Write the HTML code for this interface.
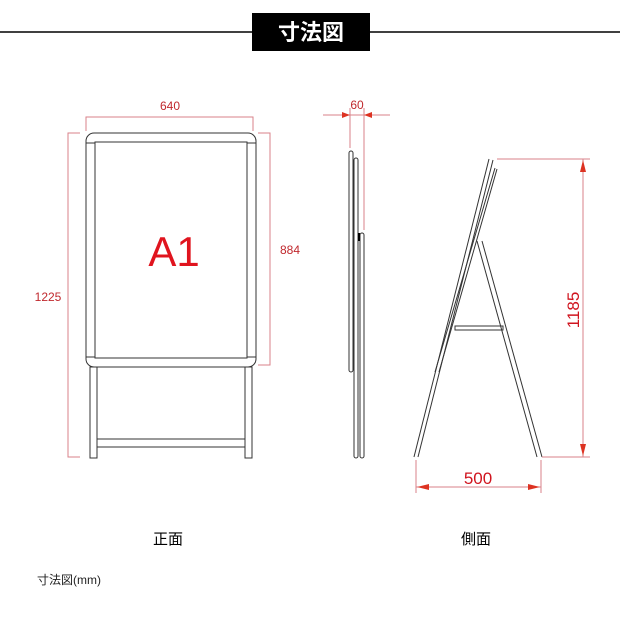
<!DOCTYPE html>
<html><head><meta charset="utf-8"><style>
html,body{margin:0;padding:0;background:#fff;}
svg{display:block}
</style></head><body>
<svg width="620" height="620" viewBox="0 0 620 620" xmlns="http://www.w3.org/2000/svg" font-family="'Liberation Sans','Noto Sans CJK JP',sans-serif">
<line x1="0" y1="32" x2="620" y2="32" stroke="#000" stroke-width="1.5"/>
<rect x="252" y="13" width="118" height="38" fill="#000"/>
<text x="311" y="40" fill="#fff" font-size="22" font-weight="bold" text-anchor="middle">寸法図</text>

<!-- front view -->
<g fill="none" stroke="#333" stroke-width="1">
<rect x="86" y="133" width="170" height="234" rx="8" fill="#fff"/>
<rect x="95" y="142" width="152" height="216"/>
<line x1="86" y1="143" x2="95" y2="143"/><line x1="247" y1="143" x2="256" y2="143"/>
<line x1="86" y1="357" x2="95" y2="357"/><line x1="247" y1="357" x2="256" y2="357"/>
<rect x="90" y="367" width="7" height="91"/>
<rect x="245" y="367" width="7" height="91"/>
<rect x="97" y="439" width="148" height="8"/>
</g>
<g stroke="#d9828a" stroke-width="1" fill="none">
<polyline points="86,131 86,117 253,117 253,131"/>
<polyline points="80,133 68,133 68,457 80,457"/>
<polyline points="258,133 270,133 270,365 258,365"/>
</g>
<text x="170" y="110" font-size="12" fill="#c0282d" text-anchor="middle">640</text>
<text x="48" y="301" font-size="12" fill="#c0282d" text-anchor="middle">1225</text>
<text x="290" y="254" font-size="12" fill="#c0282d" text-anchor="middle">884</text>
<text x="174" y="266" font-size="42" fill="#e0141e" text-anchor="middle">A1</text>

<!-- side folded -->
<g fill="#fff" stroke="#333" stroke-width="1">
<rect x="349" y="151" width="4" height="221" rx="2"/>
<rect x="354" y="158" width="4" height="300" rx="2"/>
<rect x="360" y="233" width="4" height="225" rx="2"/>
</g>
<rect x="358" y="233" width="2" height="8" fill="#000"/>
<g stroke="#d9828a" stroke-width="1" fill="none">
<line x1="323" y1="115" x2="390" y2="115"/>
<line x1="350" y1="108" x2="350" y2="148"/>
<line x1="364" y1="108" x2="364" y2="230"/>
</g>
<path d="M350 115 l-8 -3 v6z M364 115 l8 -3 v6z" fill="#d32"/>
<text x="357" y="109" font-size="12" fill="#c0282d" text-anchor="middle">60</text>

<!-- A-frame -->
<g fill="none" stroke="#333" stroke-width="1">
<line x1="489" y1="159" x2="414" y2="457"/>
<line x1="493" y1="160" x2="418" y2="457"/>
<line x1="495" y1="168" x2="435" y2="372"/>
<line x1="497" y1="169" x2="439" y2="372"/>
<line x1="477" y1="241" x2="537" y2="457"/>
<line x1="482" y1="241" x2="542" y2="457"/>
<rect x="455" y="326" width="48" height="4"/>
</g>
<g stroke="#d9828a" stroke-width="1" fill="none">
<line x1="497" y1="159" x2="590" y2="159"/>
<line x1="542" y1="457" x2="590" y2="457"/>
<line x1="583" y1="159" x2="583" y2="457"/>
<line x1="416" y1="460" x2="416" y2="493"/>
<line x1="541" y1="460" x2="541" y2="493"/>
<line x1="416" y1="487" x2="541" y2="487"/>
</g>
<path d="M583 160 l-3 12 h6z M583 456 l-3 -12 h6z M417 487 l12 -3 v6z M540 487 l-12 -3 v6z" fill="#d32"/>
<text x="478" y="484" font-size="17" fill="#d0141e" text-anchor="middle">500</text>
<text transform="translate(579,310) rotate(-90)" font-size="17" fill="#d0141e" text-anchor="middle">1185</text>

<text x="168" y="544" font-size="15" fill="#000" text-anchor="middle">正面</text>
<text x="476" y="544" font-size="15" fill="#000" text-anchor="middle">側面</text>
<text x="37" y="584" font-size="12" fill="#222">寸法図(mm)</text>
</svg>
</body></html>
